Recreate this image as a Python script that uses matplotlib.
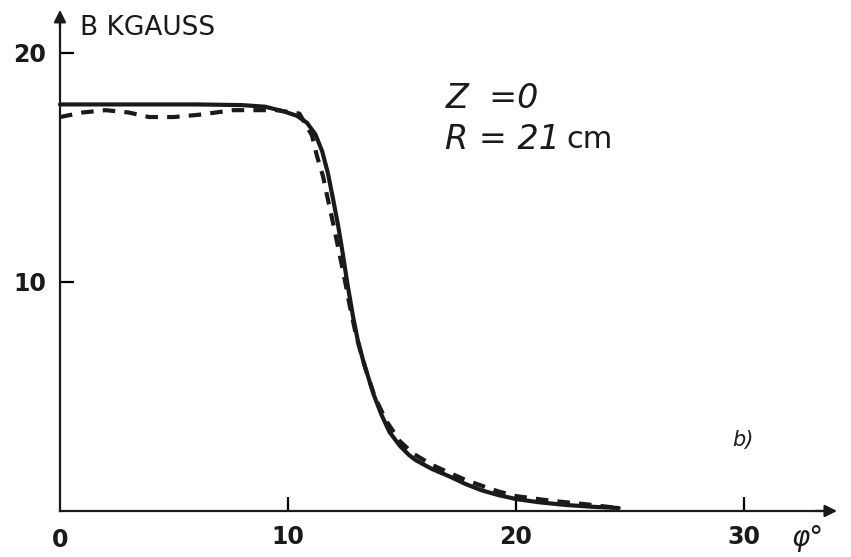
import matplotlib.pyplot as plt

# field along phi, Z=0, R=21cm
phi_solid = [0, 2, 4, 6, 8, 9, 9.8, 10.4, 10.83, 11.2, 11.5, 11.75, 11.97, 12.2, 12.4, 12.6, 12.85, 13.05, 13.3, 13.75, 14.1, 14.45, 14.9, 15.3, 15.6, 16.3, 17.1, 17.8, 18.5, 19.2, 20.0, 21.0, 22.2, 23.4, 24.5]
b_solid = [17.75, 17.75, 17.75, 17.75, 17.72, 17.65, 17.45, 17.25, 16.95, 16.45, 15.7, 14.75, 13.65, 12.45, 11.25, 9.95, 8.5, 7.5, 6.55, 5.1, 4.2, 3.45, 2.85, 2.45, 2.22, 1.84, 1.5, 1.17, 0.9, 0.7, 0.52, 0.38, 0.26, 0.18, 0.13]

phi_dash = [0, 1, 2, 3, 3.9, 5, 6.1, 7.6, 9.5, 10.5, 11.05, 11.27, 11.54, 11.75, 11.97, 12.2, 12.45, 12.7, 13.0, 13.4, 13.8, 14.3, 14.9, 15.5, 16.3, 17.0, 17.8, 18.5, 19.2, 20.0, 21.5, 23.0, 24.3]
b_dash = [17.2, 17.4, 17.5, 17.4, 17.2, 17.2, 17.3, 17.5, 17.5, 17.35, 16.4, 15.5, 14.6, 13.6, 12.6, 11.5, 10.3, 9.0, 7.6, 6.2, 5.0, 3.95, 3.05, 2.5, 2.02, 1.7, 1.35, 1.1, 0.86, 0.65, 0.45, 0.3, 0.15]

xticks = [10, 20, 30]
yticks = [10, 20]

fig = plt.figure(figsize=(8.51, 5.57), dpi=100)
ax = fig.add_axes([0, 0, 1, 1])
ax.set_xlim(-2.63, 34.69)
ax.set_ylim(-2.01, 22.31)

ax.plot(phi_solid, b_solid, color='#1a1a1a', lw=3.0, solid_capstyle='round', solid_joinstyle='round')
ax.plot(phi_dash, b_dash, color='#1a1a1a', lw=3.0, dashes=(3.0, 2.2))

for s in ['top', 'right']:
    ax.spines[s].set_visible(False)
for s in ['left', 'bottom']:
    ax.spines[s].set_position(('data', 0))
    ax.spines[s].set_linewidth(1.6)
    ax.spines[s].set_color('#1a1a1a')
ax.spines['left'].set_bounds(0, 21.6)
ax.spines['bottom'].set_bounds(0, 33.6)

# arrow heads
ax.annotate('', xy=(0, 22.0), xytext=(0, 21.0),
            arrowprops=dict(arrowstyle='-|>', color='#1a1a1a', lw=1.6, mutation_scale=18))
ax.annotate('', xy=(34.2, 0), xytext=(33.0, 0),
            arrowprops=dict(arrowstyle='-|>', color='#1a1a1a', lw=1.6, mutation_scale=18))

ax.set_xticks(xticks)
ax.set_yticks(yticks)
ax.tick_params(axis='x', direction='in', length=10, width=1.6, pad=10, labelsize=17)
ax.tick_params(axis='y', direction='in', length=10, width=1.6, pad=10, labelsize=17)
for lab in ax.get_xticklabels() + ax.get_yticklabels():
    lab.set_fontweight('bold')
    lab.set_color('#1a1a1a')

ax.text(0, -0.75, '0', ha='center', va='top', fontsize=17, fontweight='bold', color='#1a1a1a')
ax.text(32.1, -0.55, 'φ°', ha='left', va='top', fontsize=20, style='italic', color='#1a1a1a')
ax.text(0.9, 21.1, 'B KGAUSS', ha='left', va='center', fontsize=19, color='#1a1a1a')
ax.text(16.9, 18.0, 'Z  =0', ha='left', va='center', fontsize=24, style='italic', color='#1a1a1a')
ax.text(16.9, 16.2, 'R = 21', ha='left', va='center', fontsize=24, style='italic', color='#1a1a1a')
ax.text(22.2, 16.2, 'cm', ha='left', va='center', fontsize=22, color='#1a1a1a')
ax.text(29.5, 3.1, 'b)', ha='left', va='center', fontsize=15, style='italic', color='#1a1a1a')

fig.savefig('out.png', dpi=100)
